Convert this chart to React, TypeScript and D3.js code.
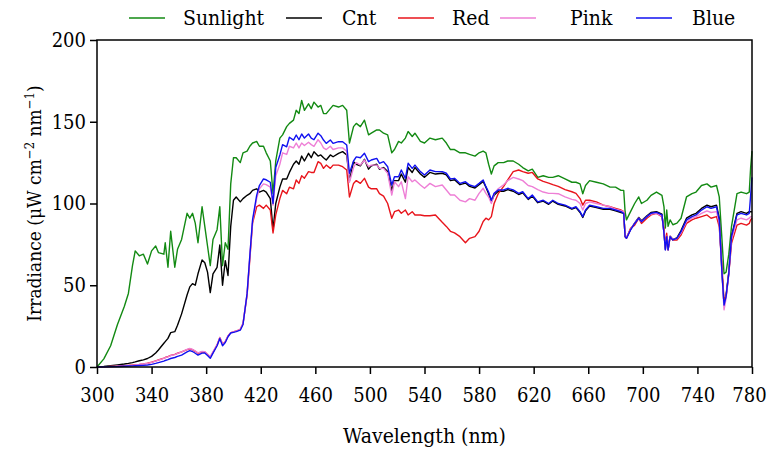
import React, { useEffect, useRef } from 'react';
import * as d3 from 'd3';

// wavelength grid (nm), rows match the series rows below
const wavelength = [
  300, 305, 310, 315, 320, 323, 326, 328, 331, 334, 337,
  340, 343, 345, 349, 350, 352, 354, 357, 359, 362, 366, 368, 370, 372, 374,
  377, 379, 381, 383, 385, 388, 390, 392, 394, 396, 398, 400, 402, 405, 407,
  410, 412, 414, 417, 419, 422, 424, 427, 429, 431, 434, 436, 439, 441,
  444, 446, 448, 450, 452, 455, 457, 459, 462, 464, 466, 468, 471, 473, 477, 480,
  483, 485, 488, 490, 493, 496, 499, 501, 505, 507, 510, 513, 516, 518, 521, 523,
  526, 528, 531, 533, 537, 540, 544, 548, 553, 556, 559, 562, 566, 570, 573, 577, 580,
  583, 585, 587, 589, 591, 594, 598, 601, 605, 609, 612, 616, 619, 623, 627,
  631, 634, 638, 643, 648, 651, 654, 656, 658, 661, 666, 671, 676, 680, 684, 686,
  687, 688, 691, 694, 697, 699, 703, 706, 710, 714, 715.5, 716.5, 717.5, 718.5, 720, 722, 725,
  728, 732, 736, 739, 743, 747, 750, 754, 756, 758, 759.5, 761, 763, 765, 769, 772, 776, 778, 779, 780,
];

const sunlight = [
  0, 5, 13, 26, 37, 45, 62, 71, 68, 69, 63,
  71, 74, 70, 69, 76, 61, 83, 61, 72, 78, 94, 91, 94, 88, 76,
  98, 86, 74, 62, 78, 84, 98, 62, 76, 72, 112, 128, 128, 125, 131,
  132, 135, 137, 138, 135, 135, 131, 126, 106, 126, 140, 142, 147, 149,
  151, 157, 155, 163, 157, 161, 158, 162, 159, 160, 155, 155, 158, 160, 159, 160,
  157, 137, 147, 149, 147, 151, 142, 143, 145, 145, 143, 142, 131, 133, 138, 137,
  140, 144, 141, 143, 138, 137, 140, 139, 140, 137, 133, 133, 131, 131, 130, 129, 131,
  132, 131, 124, 118, 123, 125, 125, 126, 126, 124, 122, 120, 121, 116, 117,
  116, 116, 117, 115, 113, 113, 112, 106, 111, 114, 113, 112, 110, 110, 108, 108,
  95, 90, 95, 100, 104, 100, 102, 105, 107, 105, 98, 85, 96, 86, 90, 87, 88,
  91, 104, 106, 107, 111, 112, 110, 111, 104, 78, 57, 58, 69, 86, 106, 107, 106, 107, 122, 132,
];

const cnt = [
  0, 0.3, 0.8, 1.3, 1.8, 2.2, 2.7, 3.1, 3.8, 4.4, 5.2,
  6.5, 8.6, 10.4, 14.5, 15.5, 17.5, 21, 21.6, 25.5, 32.5, 44, 49, 51, 50, 57,
  65.5, 63.8, 58, 45.5, 57, 61, 74.6, 50, 65, 56, 86, 102, 104, 101, 103,
  105, 106, 108, 109, 107, 108, 107, 103, 84, 100, 110, 115, 115, 119,
  124, 126, 124, 129, 126, 130.7, 128, 131.7, 129, 129.7, 128, 126.6, 129.7, 128.6, 130.7, 131.7,
  129.7, 114, 125.6, 124, 123, 127, 121, 123, 124, 121, 122, 119.5, 108, 114, 114, 118,
  113, 122, 119, 122, 118, 116, 119, 118, 118.5, 117.5, 114, 114.5, 111.5, 112.5, 110.5, 109.5, 111.5,
  113.5, 110, 106, 101, 105, 107.5, 107.5, 108.5, 107.5, 105.5, 106.5, 102.5, 104.5, 100.5, 101.5,
  99.5, 101.5, 99.5, 98.5, 96.5, 97.5, 94.5, 91.5, 95.5, 98.5, 97.5, 96.5, 96.5, 95.5, 94.5, 94,
  80, 79, 84, 88, 91.5, 89.5, 92.5, 94.5, 95, 93.5, 82, 72, 80, 72, 80, 78, 79,
  83.5, 91, 93, 94, 97, 99, 98, 99, 91, 58, 38, 44, 58, 80, 94, 95, 94, 95, 95, 95,
];

const red = [
  0, 0.1, 0.3, 0.5, 0.8, 1.0, 1.2, 1.4, 1.6, 1.9, 2.3,
  2.9, 3.7, 4.3, 5.4, 5.8, 6.4, 7.1, 7.7, 8.4, 9.2, 10.6, 11.1, 10.6, 9.6, 8.4,
  9.3, 9.2, 7.6, 6, 9, 13.5, 18, 14, 15.5, 19, 21, 21.5, 22, 23, 26.5,
  44, 66, 88, 98, 99, 97, 99, 96, 82, 93, 103, 108, 106, 110,
  109, 114.4, 112.3, 117, 115.5, 119.5, 119, 119, 125.6, 124.5, 121.5, 123.5, 121.5, 123.5, 123.5, 122.5,
  120.5, 104, 112.3, 114, 112.3, 115.4, 110, 109, 109, 106, 104.5, 100, 91, 95, 96, 94,
  96, 93, 95, 93, 93, 92.5, 92.5, 93, 88.5, 86, 83, 82, 79.7, 76, 78.7, 79.7, 83,
  89, 91, 90, 92, 100, 106, 110.5, 114.4, 119.5, 120.5, 119.5, 118.5, 119, 115, 113.5,
  112.5, 111.5, 110.5, 108.5, 107.2, 106.2, 103, 99, 102, 102, 101, 99, 98, 97, 96, 95,
  79.7, 78.7, 84.8, 86.8, 91, 87.8, 91, 93, 94, 92, 84.8, 73.6, 81.8, 71.6, 79.7, 77.7, 77.7,
  80.7, 87.8, 90, 91, 92, 93, 91, 92, 85.8, 61.3, 41, 43, 57.3, 75.6, 86.8, 87.8, 86.8, 87.8, 90, 91,
];

const pink = [
  0, 0.1, 0.3, 0.5, 0.7, 0.9, 1.1, 1.3, 1.5, 1.8, 2.2,
  2.8, 3.6, 4.2, 5.3, 5.7, 6.2, 7, 7.6, 8.3, 9.2, 10.8, 11.3, 10.8, 9.8, 8.6,
  9.5, 9.4, 7.8, 6.2, 9.2, 13.5, 18, 14, 15.5, 19, 21, 21.5, 22, 23, 26.5,
  45, 68, 89, 103, 109, 112, 111.5, 110, 99, 117, 124, 131, 130, 135,
  134, 137, 134, 137, 135.5, 137.5, 136, 135, 139, 137, 134, 133, 135, 133, 134, 134,
  132, 113, 122, 125, 123.5, 126.6, 122.5, 123.5, 123.5, 121.5, 121.5, 118.5, 105.2, 113.3, 110.3, 113.3,
  103, 116.4, 113.3, 114.4, 111.3, 109.3, 112.3, 110.3, 111.3, 108.3, 105.2, 105.2, 102, 101, 103, 102, 106.2,
  109.3, 106.2, 104, 100, 106, 109, 111.5, 114, 116, 115, 114, 111, 110.3, 108.5, 107,
  106.2, 106.2, 106, 104, 102.5, 102, 100, 96, 100, 101, 100, 99, 98, 96.5, 95.6, 95,
  80, 79, 84, 88, 91, 89, 92, 93.5, 94, 92.5, 82, 72, 80, 72, 80, 78, 78.5,
  82, 89, 91, 92, 94, 95.5, 94.5, 95, 88, 57, 35, 42, 57, 78, 90, 91, 90, 91, 92, 92,
];

const blue = [
  0, 0.1, 0.2, 0.3, 0.5, 0.6, 0.7, 0.8, 0.9, 1.0, 1.2,
  1.6, 2.2, 2.7, 3.6, 4, 4.5, 5.2, 5.8, 6.5, 7.3, 9.2, 10, 9.5, 8.4, 7.3,
  8.5, 8.6, 7, 5.3, 8.5, 13, 17.5, 13, 15, 18.5, 20.8, 21.2, 21.6, 22.5, 26,
  45, 68, 90, 105, 111, 115, 114.5, 113, 100, 122, 129.7, 136, 134.7, 140.5,
  138.8, 141.9, 139, 142.5, 140, 142.5, 140, 139, 143, 141.5, 138.8, 136.8, 138.8, 136.8, 137.8, 137.8,
  135.8, 118.5, 126, 128.5, 128, 130.7, 125.6, 126.6, 127.6, 124.6, 125.6, 122.5, 111.3, 116.4, 116.4, 120.5,
  115.4, 124.6, 121.5, 123.5, 119.5, 117.4, 120.5, 119.5, 119.5, 118.5, 115, 115.4, 112.3, 113.3, 111.3, 110.3, 112.3,
  114.4, 110.3, 107, 102, 106.2, 108.3, 108.3, 109.3, 108.3, 106.2, 107.2, 103, 105.2, 101, 102,
  100, 102, 100, 99, 97, 98, 95, 92, 96, 99, 98, 97, 97, 96, 95, 94,
  79.7, 78.7, 83.8, 87.8, 91, 88.9, 92, 94, 94.6, 93, 81.8, 71.6, 79.7, 71.6, 79.7, 77.7, 78.7,
  82.8, 90, 92, 93, 96, 98, 97, 98, 90, 57.3, 37.9, 43, 57.3, 79.7, 93, 94, 93, 94, 105, 116,
];

const seriesNames = ['Sunlight', 'Cnt', 'Red', 'Pink', 'Blue'];
const seriesValues = [sunlight, cnt, red, pink, blue];
const seriesColors = ['#138a13', '#000000', '#e8141b', '#ee7fd6', '#1010f0'];

const xTicks = [300, 340, 380, 420, 460, 500, 540, 580, 620, 660, 700, 740, 780];
const yTicks = [0, 50, 100, 150, 200];

// legend layout: line start, text start
const legendLineX = [129, 286, 398, 500, 636];
const legendTextX = [183, 342, 452, 570, 692];

const FONT = "'DejaVu Serif Condensed', 'DejaVu Serif'";

const SpectrumChart = () => {
  const svgRef = useRef<SVGSVGElement>(null);

  useEffect(() => {
    document.body.style.margin = '0';
    const width = 768;
    const height = 452;
    const margin = { top: 40, right: 16, bottom: 85, left: 97 };
    const innerWidth = width - margin.left - margin.right;
    const innerHeight = height - margin.top - margin.bottom;

    const root = d3.select(svgRef.current);
    root.selectAll('*').remove();
    root.attr('width', width).attr('height', height);

    const svg = root.append('g')
      .attr('transform', `translate(${margin.left},${margin.top})`);

    const x = d3.scaleLinear().domain([300, 780]).range([0, innerWidth]);
    const y = d3.scaleLinear().domain([0, 200]).range([innerHeight, 0]);

    const line = d3.line<number>()
      .x((_, i) => x(wavelength[i]))
      .y(d => y(d));

    // spectra, drawn in legend order so Blue ends on top
    seriesValues.forEach((vals, k) => {
      svg.append('path')
        .datum(vals)
        .attr('d', line)
        .attr('fill', 'none')
        .attr('stroke', seriesColors[k])
        .attr('stroke-width', 1.4)
        .attr('stroke-linejoin', 'round');
    });

    // frame
    svg.append('rect')
      .attr('width', innerWidth)
      .attr('height', innerHeight)
      .attr('fill', 'none')
      .attr('stroke', '#000')
      .attr('stroke-width', 1.5);

    const xAxis = svg.append('g')
      .attr('transform', `translate(0,${innerHeight})`)
      .call(d3.axisBottom(x).tickValues(xTicks).tickSize(7).tickPadding(14).tickFormat(d3.format('d')));
    const yAxis = svg.append('g')
      .call(d3.axisLeft(y).tickValues(yTicks).tickSize(7).tickPadding(4));

    [xAxis, yAxis].forEach(ax => {
      ax.attr('font-family', null).attr('font-size', null);
      ax.select('.domain').remove();
      ax.selectAll('line').attr('stroke', '#000').attr('stroke-width', 1.5);
      ax.selectAll('text')
        .attr('fill', '#000')
        .style('font-family', FONT)
        .style('font-size', '20px');
    });

    // keep the last x label inside the page
    xAxis.selectAll<SVGTextElement, number>('text')
      .filter(d => d === 780)
      .attr('dx', -3);

    // axis titles
    svg.append('text')
      .attr('x', innerWidth / 2)
      .attr('y', innerHeight + 76)
      .attr('text-anchor', 'middle')
      .style('font-family', FONT)
      .style('font-size', '21px')
      .text('Wavelength (nm)');

    const yTitle = svg.append('text')
      .attr('transform', `translate(${-56},${innerHeight / 2}) rotate(-90)`)
      .attr('text-anchor', 'middle')
      .style('font-family', FONT)
      .style('font-size', '19px');
    yTitle.append('tspan').text('Irradiance (μW cm');
    yTitle.append('tspan').attr('dy', -7).style('font-size', '13px').text('−2');
    yTitle.append('tspan').attr('dy', 7).text(' nm');
    yTitle.append('tspan').attr('dy', -7).style('font-size', '13px').text('−1');
    yTitle.append('tspan').attr('dy', 7).text(')');

    // legend
    const legend = root.append('g');
    seriesNames.forEach((name, k) => {
      legend.append('line')
        .attr('x1', legendLineX[k])
        .attr('x2', legendLineX[k] + 36)
        .attr('y1', 18)
        .attr('y2', 18)
        .attr('stroke', seriesColors[k])
        .attr('stroke-width', 1.6);
      legend.append('text')
        .attr('x', legendTextX[k])
        .attr('y', 25)
        .style('font-family', FONT)
        .style('font-size', '21px')
        .text(name);
    });
  }, []);

  return <svg ref={svgRef} style={{ display: 'block' }}></svg>;
};

export default function App() {
  return <SpectrumChart />;
}
